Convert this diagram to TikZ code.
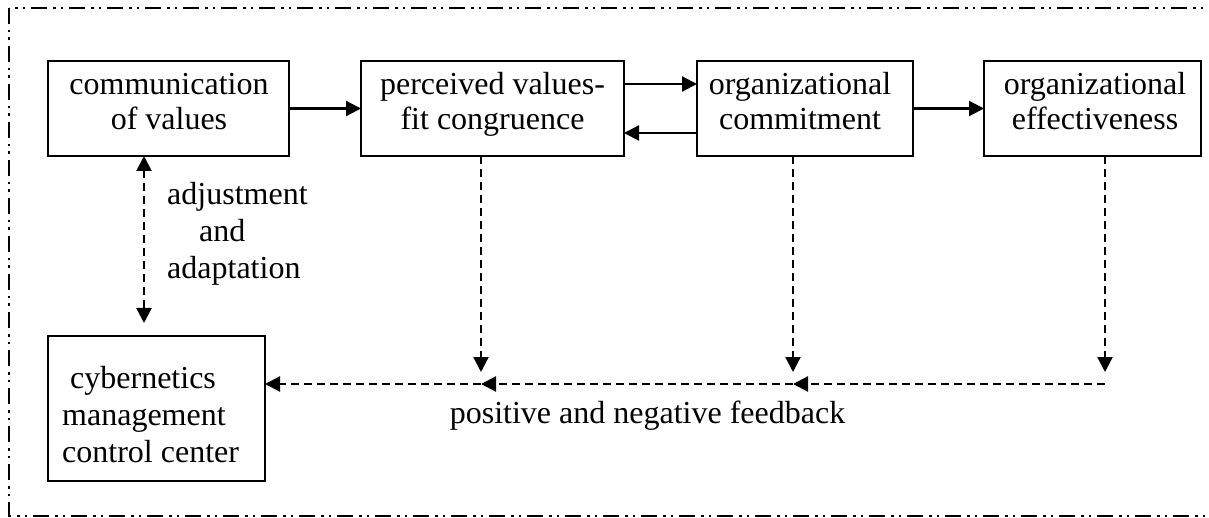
\documentclass[tikz,border=0pt]{standalone}
\usepackage{fontspec}
\setmainfont{Liberation Serif}
\usetikzlibrary{arrows.meta,calc}
\begin{document}
\begin{tikzpicture}[x=1pt,y=-1pt,
  box/.style={draw,line width=2.2pt,inner sep=0pt,outer sep=0pt},
  txt/.style={inner sep=0pt,anchor=north,align=center,font=\fontsize{32}{35}\selectfont},
  ltxt/.style={inner sep=0pt,anchor=north west,align=left,font=\fontsize{32}{37}\selectfont},
  tip/.style={},
  arr/.style={line width=2.2pt,-{Triangle[length=15pt,width=15pt]}},
  darr/.style={arr,dash pattern=on 8pt off 5pt},
  frame/.style={line width=2pt,dash pattern=on 16pt off 6pt on 2.5pt off 5pt on 2.5pt off 6pt}]
\useasboundingbox (0,0) rectangle (1209,518);
\clip (0,0) rectangle (1209,518);
\draw[frame] (9,8) rectangle (1230,516);
% boxes
\node[box,minimum width=241pt,minimum height=95pt] (comm) at (168.5,108.5) {};
\node[box,minimum width=263pt,minimum height=95pt] (perc) at (492.5,108.5) {};
\node[box,minimum width=216pt,minimum height=95pt] (commit) at (805,108.5) {};
\node[box,minimum width=217pt,minimum height=95pt] (eff) at (1092.5,108.5) {};
\node[box,minimum width=217pt,minimum height=145pt] (cyber) at (156.5,408.5) {};
% texts
\node[txt] (tcomm) at (169,69.5) {\strut communication\\of values};
\node[txt] (tperc) at (492.5,69.5) {\strut perceived values-\\fit congruence};
\node[txt] (tcommit) at (800,69.5) {\strut organizational\\commitment};
\node[txt] (teff) at (1095,69.5) {\strut organizational\\effectiveness};
\node[ltxt] (tcyber) at (62,362.1) {\strut\hspace*{8pt}cybernetics\\management\\control center};
\node[ltxt] (tadj) at (167,178.1) {\strut adjustment\\\hspace*{32pt}and\\adaptation};
\node[inner sep=0pt,anchor=base,font=\fontsize{32}{35}\selectfont] (tfb) at (647.5,423) {positive and negative feedback};
% coordinates
\coordinate (adjb) at (144,323);
\coordinate (j1) at (481,384);
\coordinate (j2) at (793,384);
\coordinate (j3) at (1105,384);
% solid connectors
\draw[arr] (comm.east) -- (perc.west);
\draw[arr] ([yshift=24.5pt]perc.east) -- ([yshift=24.5pt]commit.west);
\draw[arr] ([yshift=-24.5pt]commit.west) -- ([yshift=-24.5pt]perc.east);
\draw[arr] (commit.east) -- (eff.west);
% dashed connectors
\draw[darr,{Triangle[length=15pt,width=15pt]}-{Triangle[length=15pt,width=15pt]}] (comm.south -| adjb) -- (adjb);
\draw[darr] (perc.south -| j1) -- ([yshift=12pt]j1);
\draw[darr] (commit.south -| j2) -- ([yshift=12pt]j2);
\draw[darr] (eff.south -| j3) -- ([yshift=12pt]j3);
\draw[darr] (j3) -- (j2);
\draw[darr] (j2) -- (j1);
\draw[darr] (j1) -- (cyber.east |- j1);
\end{tikzpicture}
\end{document}
